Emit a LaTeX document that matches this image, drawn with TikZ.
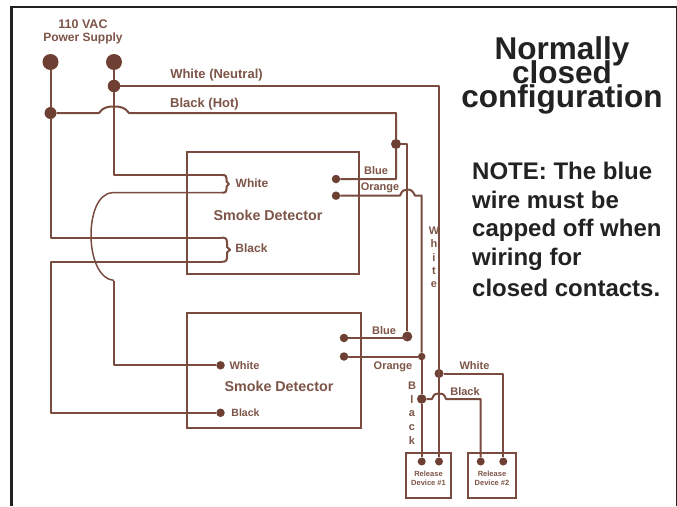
\documentclass[tikz,border=0pt]{standalone}
\usepackage{fontspec}
\setmainfont{Liberation Sans}
\definecolor{wire}{HTML}{7A4B3F}
\definecolor{dot}{HTML}{6E4033}
\definecolor{lbl}{HTML}{7D5548}
\definecolor{ink}{HTML}{222222}
\newcommand{\fsz}[1]{\fontsize{#1}{#1}\selectfont\bfseries}
\newcommand{\tightlines}{\setlength{\lineskiplimit}{-100pt}\fontsize{31.5}{24}\selectfont\bfseries}
\tikzset{
  wireline/.style={draw=wire,line width=2pt,line join=round},
  boxline/.style={draw=wire,line width=2pt},
  term/.style={circle,fill=dot,draw=none,inner sep=0pt,minimum size=#1},
  lab/.style={text=lbl,inner sep=0pt,font=\fsz{#1}},
  head/.style={text=ink,inner sep=0pt,align=center,font=\tightlines},
  note/.style={text=ink,inner sep=0pt,anchor=west,font=\fsz{24}},
}
\begin{document}
\begin{tikzpicture}[x=1pt,y=-1pt]
\useasboundingbox (0,0) rectangle (677,506);
\fill[white] (0,0) rectangle (677,506);
% frame
\draw[draw=ink,line width=2.6pt] (11.5,506) -- (11.5,7) -- (677,7);
\draw[draw=ink,line width=0.8pt] (676.3,7) -- (676.3,506);
% boxes
\node[boxline,minimum width=172pt,minimum height=122.5pt,inner sep=0pt] (det1) at (272.8,213.2) {};
\node[boxline,minimum width=174pt,minimum height=115pt,inner sep=0pt] (det2) at (273.8,370.8) {};
\node[boxline,minimum width=45pt,minimum height=45pt,inner sep=0pt] (rel1) at (428.5,475.2) {};
\node[boxline,minimum width=47.4pt,minimum height=45pt,inner sep=0pt] (rel2) at (492,475.2) {};
% terminals
\node[term=16pt] (pl) at (50.5,62) {};
\node[term=16pt] (pn) at (114,62) {};
\node[term=12.5pt] (jn) at (114,86) {};
\node[term=12pt] (jh) at (50.5,113) {};
\node[term=10pt] (jt) at (396,144) {};
\node[term=8.5pt] (tb1) at (336,179) {};
\node[term=8.5pt] (to1) at (336,195.7) {};
\node[term=8.5pt] (tw2) at (220.5,365.3) {};
\node[term=8.5pt] (tk2) at (220.5,412.8) {};
\node[term=8.5pt] (tb2) at (344,338) {};
\node[term=8.5pt] (to2) at (344,356.5) {};
\node[term=10pt] (jb) at (407.3,336.5) {};
\node[term=7.5pt] (jo) at (421.7,356.5) {};
\node[term=9pt] (jw) at (439,373.5) {};
\node[term=9.5pt] (jk) at (421.7,399) {};
\node[term=8pt] (r1a) at (421.7,461.5) {};
\node[term=8pt] (r1b) at (439,461.5) {};
\node[term=8pt] (r2a) at (480.7,461.5) {};
\node[term=8pt] (r2b) at (503.3,461.5) {};
% routing points
\coordinate (cn) at (439,86);
\coordinate (ch) at (396,113);
\coordinate (wup) at (222,175);
\coordinate (wdn) at (222,192.7);
\coordinate (kup) at (222,237.6);
\coordinate (kdn) at (222,261.8);
% power wiring
\draw[wireline] (pl) -- (jh) -- (50.5,237.6) -- (kup);
\draw[wireline] (pn) -- (jn) -- (cn) -- (r1b);
\draw[wireline] (jn) -- (114,175) -- (wup);
\draw[wireline] (jh) -- (99,113) .. controls (103,107.5) and (107,106.5) .. (114,106.5)
  .. controls (121,106.5) and (125,107.5) .. (129,113) -- (ch) -- (jt) -- (396,179) -- (tb1);
\draw[wireline] (jt) -- (407.3,144) -- (jb);
\draw[wireline] (tb2) -- (tb2 -| jb);
% orange
\draw[wireline] (to1) -- (400,195.7) .. controls (402,190.5) and (404,189.5) .. (407.3,189.5)
  .. controls (411,189.5) and (413,191) .. (415,195.7) -- (421.7,195.7) -- (jo);
\draw[wireline] (to2) -- (jo) -- (jk) -- (r1a);
% white tie
\draw[wireline,line width=1.5pt] (wdn) -- (112,192.7) .. controls (97,194) and (91,216) .. (91,235)
  .. controls (91,258) and (99,279) .. (114,280.5);
\draw[wireline] (114,280.5) -- (114,365.3) -- (tw2);
% black tie
\draw[wireline] (kdn) -- (50.5,261.8) -- (50.5,412.8) -- (tk2);
% braces
\draw[wireline] (wup) .. controls (226,175) and (226.5,176) .. (226.5,179) -- (226.5,181.5) -- (229,184)
  -- (226.5,186.5) -- (226.5,189) .. controls (226.5,191.5) and (226,192.7) .. (wdn);
\draw[wireline] (kup) .. controls (226,237.6) and (227,239) .. (227,243) -- (227,247) -- (230,249.7)
  -- (227,252.4) -- (227,256.5) .. controls (227,260.5) and (226,261.8) .. (kdn);
% release wiring
\draw[wireline] (jw) -- (503.3,373.5) -- (r2b);
\draw[wireline] (jk) -- (432,399) .. controls (434,393.5) and (436,393.5) .. (439,393.5)
  .. controls (442,393.5) and (444,393.5) .. (446,399) -- (480.7,399) -- (r2a);
% labels
\node[lab=12.5] (t1) at (83,24) {110 VAC};
\node[lab=12] (t2) at (83,38) {Power Supply};
\node[lab=13] (t3) at (216.5,75) {White (Neutral)};
\node[lab=13] (t4) at (204.5,104) {Black (Hot)};
\node[lab=12] (t5) at (252,183) {White};
\node[lab=14.3] (t6) at (268,215.5) {Smoke Detector};
\node[lab=12] (t7) at (251.5,248.5) {Black};
\node[lab=11] (t8) at (244.5,366) {White};
\node[lab=14.3] (t9) at (279,386) {Smoke Detector};
\node[lab=10.5] (t10) at (245.5,413) {Black};
\node[lab=11] (t11) at (376,171) {Blue};
\node[lab=11] (t12) at (380,188) {Orange};
\node[lab=11,anchor=north,align=center] (t13) at (434,226.5) {W\\[2.4pt]h\\[2.4pt]i\\[2.4pt]t\\[2.4pt]e};
\node[lab=11] (t14) at (384,331) {Blue};
\node[lab=11] (t15) at (393,367) {Orange};
\node[lab=11,anchor=north,align=center] (t16) at (412,382) {B\\[2.6pt]l\\[2.6pt]a\\[2.6pt]c\\[2.6pt]k};
\node[lab=11] (t17) at (474.5,366) {White};
\node[lab=11] (t18) at (465,392) {Black};
\node[lab=7.5,align=center] (t19) at (428.5,478.5) {Release\\[1.5pt]Device \#1};
\node[lab=7.5,align=center] (t20) at (492,478.5) {Release\\[1.5pt]Device \#2};
% heading
\node[head] (h1) at (562,75) {Normally\\closed\\configuration};
\node[note] (n1) at (472,171) {NOTE: The blue};
\node[note] (n2) at (472,200) {wire must be};
\node[note] (n3) at (472,230) {capped off when};
\node[note] (n4) at (472,259) {wiring for};
\node[note] (n5) at (472,288) {closed contacts.};
\end{tikzpicture}
\end{document}
